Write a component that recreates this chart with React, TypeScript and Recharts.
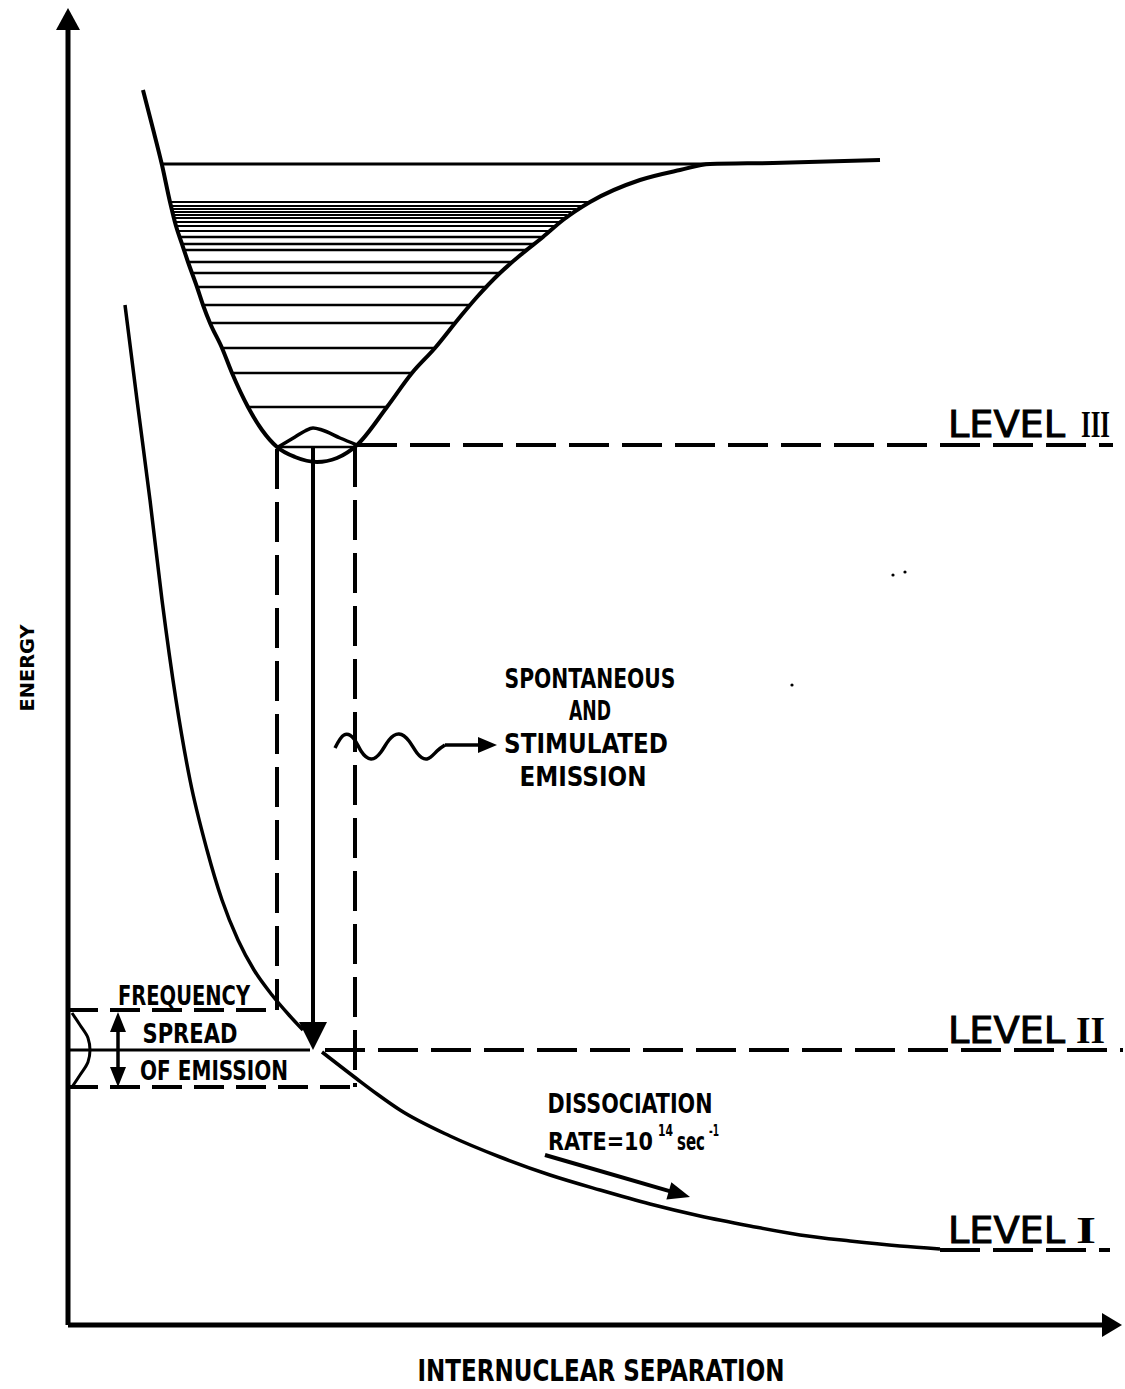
import React from 'react';
import { ComposedChart, Line, XAxis, YAxis, ReferenceLine, ReferenceDot } from 'recharts';

// Upper (bound) potential curve: internuclear separation r vs energy E
const wellCurve = [
  { r: 0.75, E: 12.35 }, { r: 0.84, E: 12.0 }, { r: 0.94, E: 11.6 }, { r: 1.02, E: 11.23 },
  { r: 1.08, E: 10.99 }, { r: 1.14, E: 10.81 }, { r: 1.2, E: 10.63 }, { r: 1.29, E: 10.38 },
  { r: 1.35, E: 10.2 }, { r: 1.42, E: 10.02 }, { r: 1.54, E: 9.77 }, { r: 1.64, E: 9.52 },
  { r: 1.8, E: 9.18 }, { r: 1.94, E: 8.95 }, { r: 2.09, E: 8.78 }, { r: 2.27, E: 8.68 },
  { r: 2.49, E: 8.63 }, { r: 2.69, E: 8.67 }, { r: 2.89, E: 8.8 }, { r: 3.19, E: 9.18 },
  { r: 3.44, E: 9.52 }, { r: 3.67, E: 9.77 }, { r: 3.92, E: 10.08 }, { r: 4.09, E: 10.28 },
  { r: 4.32, E: 10.52 }, { r: 4.55, E: 10.72 }, { r: 4.75, E: 10.88 }, { r: 4.95, E: 11.05 },
  { r: 5.22, E: 11.23 }, { r: 5.72, E: 11.45 }, { r: 6.12, E: 11.55 }, { r: 6.42, E: 11.61 },
  { r: 7.05, E: 11.62 }, { r: 8.12, E: 11.65 },
];

// Ground-state wavefunction bump at bottom of the well
const groundWave = [
  { r: 2.1, E: 8.78 }, { r: 2.27, E: 8.88 }, { r: 2.37, E: 8.94 }, { r: 2.45, E: 8.97 },
  { r: 2.54, E: 8.95 }, { r: 2.72, E: 8.87 }, { r: 2.89, E: 8.8 },
];

// Vibrational levels inside the well: energy, left and right turning points
const vibLevels = [
  { E: 11.61, r1: 0.94, r2: 6.42 },
  { E: 11.23, r1: 1.02, r2: 5.22 }, { E: 11.19, r1: 1.03, r2: 5.14 }, { E: 11.16, r1: 1.04, r2: 5.08 },
  { E: 11.13, r1: 1.045, r2: 5.03 }, { E: 11.1, r1: 1.05, r2: 4.99 }, { E: 11.07, r1: 1.06, r2: 4.96 },
  { E: 11.03, r1: 1.07, r2: 4.92 }, { E: 10.99, r1: 1.08, r2: 4.87 }, { E: 10.94, r1: 1.1, r2: 4.82 },
  { E: 10.88, r1: 1.12, r2: 4.75 }, { E: 10.81, r1: 1.14, r2: 4.67 }, { E: 10.75, r1: 1.16, r2: 4.59 },
  { E: 10.63, r1: 1.2, r2: 4.45 }, { E: 10.52, r1: 1.24, r2: 4.32 }, { E: 10.38, r1: 1.29, r2: 4.19 },
  { E: 10.2, r1: 1.35, r2: 4.02 }, { E: 10.02, r1: 1.42, r2: 3.87 }, { E: 9.77, r1: 1.54, r2: 3.67 },
  { E: 9.52, r1: 1.64, r2: 3.44 }, { E: 9.18, r1: 1.8, r2: 3.19 }, { E: 8.78, r1: 2.09, r2: 2.89 },
];

// Lower (repulsive) potential curve, split by the emission arrow tip
const repulsiveUpper = [
  { r: 0.57, E: 10.2 }, { r: 0.69, E: 9.25 }, { r: 0.82, E: 8.25 }, { r: 0.94, E: 7.25 },
  { r: 1.08, E: 6.25 }, { r: 1.22, E: 5.45 }, { r: 1.39, E: 4.75 }, { r: 1.54, E: 4.25 },
  { r: 1.7, E: 3.85 }, { r: 1.86, E: 3.55 }, { r: 2.04, E: 3.3 }, { r: 2.21, E: 3.1 },
  { r: 2.35, E: 2.95 },
];
const repulsiveLower = [
  { r: 2.54, E: 2.73 }, { r: 2.89, E: 2.46 }, { r: 3.09, E: 2.31 }, { r: 3.32, E: 2.15 },
  { r: 3.82, E: 1.89 }, { r: 4.32, E: 1.68 }, { r: 4.82, E: 1.5 }, { r: 5.32, E: 1.35 },
  { r: 5.82, E: 1.21 }, { r: 6.32, E: 1.09 }, { r: 6.82, E: 0.99 }, { r: 7.32, E: 0.9 },
  { r: 7.82, E: 0.84 }, { r: 8.32, E: 0.79 }, { r: 8.72, E: 0.76 },
];

// Frequency-spread profile drawn against the energy axis
const spreadProfile = [
  { r: 0.04, E: 3.12 }, { r: 0.12, E: 3.0 }, { r: 0.2, E: 2.87 }, { r: 0.22, E: 2.75 },
  { r: 0.2, E: 2.63 }, { r: 0.12, E: 2.5 }, { r: 0.04, E: 2.38 },
];

// Emitted photon (wavy line)
const photonWave = [
  { r: 2.67, E: 5.77 }, { r: 2.76, E: 5.9 }, { r: 2.86, E: 5.86 }, { r: 2.93, E: 5.74 },
  { r: 3.03, E: 5.66 }, { r: 3.13, E: 5.73 }, { r: 3.21, E: 5.85 }, { r: 3.31, E: 5.91 },
  { r: 3.41, E: 5.84 }, { r: 3.49, E: 5.72 }, { r: 3.59, E: 5.66 }, { r: 3.69, E: 5.74 },
  { r: 3.77, E: 5.8 },
];

// Energy levels
const levelE = { III: 8.8, II: 2.75, I: 0.75 };
const spreadTopE = 3.15;
const spreadBottomE = 2.38;
const turnLeftR = 2.09;
const turnRightR = 2.87;
const emissionR = 2.45;

const specks = [{ r: 8.25, E: 7.5 }, { r: 8.37, E: 7.53 }, { r: 7.24, E: 6.4 }];

const FONT = '"DejaVu Sans Condensed", "DejaVu Sans", sans-serif';

const arrowShape = (head: number, half: number, both = false) => (p: any) => {
  const { x1, y1, x2, y2, stroke, strokeWidth } = p;
  const dx = x2 - x1;
  const dy = y2 - y1;
  const len = Math.hypot(dx, dy) || 1;
  const ux = dx / len;
  const uy = dy / len;
  const tri = (tx: number, ty: number, vx: number, vy: number) => {
    const bx = tx - vx * head;
    const by = ty - vy * head;
    return `${tx},${ty} ${bx - vy * half},${by + vx * half} ${bx + vy * half},${by - vx * half}`;
  };
  const sx = both ? x1 + ux * head * 0.6 : x1;
  const sy = both ? y1 + uy * head * 0.6 : y1;
  return (
    <g>
      <line x1={sx} y1={sy} x2={x2 - ux * head * 0.6} y2={y2 - uy * head * 0.6} stroke={stroke} strokeWidth={strokeWidth} />
      <polygon points={tri(x2, y2, ux, uy)} fill="#000" />
      {both && <polygon points={tri(x1, y1, -ux, -uy)} fill="#000" />}
    </g>
  );
};

type Ann = { text: string; r: number; E: number; w: number; size: number; weight?: number | string; anchor?: string; rotate?: boolean; thick?: number };

const annotations: Ann[] = [
  { text: 'SPONTANEOUS', r: 5.22, E: 6.37, w: 171, size: 27 },
  { text: 'AND', r: 5.22, E: 6.05, w: 42, size: 27 },
  { text: 'STIMULATED', r: 5.18, E: 5.72, w: 164, size: 27 },
  { text: 'EMISSION', r: 5.15, E: 5.39, w: 127, size: 27 },
  { text: 'FREQUENCY', r: 1.16, E: 3.2, w: 132, size: 26 },
  { text: 'SPREAD', r: 1.22, E: 2.82, w: 95, size: 26 },
  { text: 'OF EMISSION', r: 1.46, E: 2.45, w: 148, size: 26 },
  { text: 'DISSOCIATION', r: 5.62, E: 2.12, w: 165, size: 26 },
  { text: 'INTERNUCLEAR   SEPARATION', r: 5.33, E: -0.56, w: 367, size: 30, weight: 600 },
  { text: 'ENERGY', r: -0.34, E: 6.57, w: 87, size: 19, rotate: true },
  { text: 'LEVEL', r: 8.8, E: 8.88, w: 117, size: 38, weight: 'normal', anchor: 'start', thick: 0.9 },
  { text: 'LEVEL', r: 8.8, E: 2.82, w: 117, size: 38, weight: 'normal', anchor: 'start', thick: 0.9 },
  { text: 'LEVEL', r: 8.8, E: 0.82, w: 117, size: 38, weight: 'normal', anchor: 'start', thick: 0.9 },
];

const numerals: Ann[] = [
  { text: 'III', r: 10.13, E: 8.88, w: 29, size: 38 },
  { text: 'II', r: 10.08, E: 2.82, w: 29, size: 38 },
  { text: 'I', r: 10.08, E: 0.82, w: 20, size: 38 },
];

const renderAnn = (a: Ann, serif = false) => (p: any) => {
  const x = p.viewBox.x;
  const y = p.viewBox.y;
  return (
    <text
      x={x}
      y={y}
      textAnchor={a.anchor || (serif ? 'start' : 'middle')}
      textLength={a.w}
      lengthAdjust="spacingAndGlyphs"
      fontFamily={serif ? '"Liberation Serif", "DejaVu Serif", serif' : FONT}
      fontWeight={a.weight || 'bold'}
      fontSize={a.size}
      fill="#000"
      stroke={a.thick ? '#000' : undefined}
      strokeWidth={a.thick}
      transform={a.rotate ? `rotate(-90, ${x}, ${y})` : undefined}
    >
      {a.text}
    </text>
  );
};

// "RATE = 10^14 sec^-1", laid out piece by piece from the anchor point
const rateLabel = (p: any) => {
  const x = p.viewBox.x;
  const y = p.viewBox.y;
  const common = { fontFamily: FONT, fontWeight: 'bold' as const, fill: '#000', lengthAdjust: 'spacingAndGlyphs' };
  return (
    <g>
      <text x={x} y={y} fontSize={25} textLength={105} {...common}>RATE=10</text>
      <text x={x + 110} y={y - 14} fontSize={15} textLength={15} {...common}>14</text>
      <text x={x + 129} y={y} fontSize={25} textLength={28} {...common}>sec</text>
      <text x={x + 161} y={y - 14} fontSize={15} textLength={10} {...common}>-1</text>
    </g>
  );
};

const lineProps = { dot: false, activeDot: false, isAnimationActive: false, stroke: '#000', dataKey: 'E' } as const;
const DASH = '40 13';

export default function App() {
  return (
    <div style={{ position: 'absolute', left: 0, top: 0, width: 1125, height: 1389, background: '#fff' }}>
      <ComposedChart width={1125} height={1389} margin={{ top: 5, right: 2, bottom: 64, left: 68 }}>
        <XAxis type="number" dataKey="r" domain={[0, 10.55]} hide allowDataOverflow />
        <YAxis type="number" domain={[0, 13.2]} hide allowDataOverflow />

        {/* axes with arrowheads */}
        <ReferenceLine segment={[{ x: 0, y: 0 }, { x: 0, y: 13.17 }]} stroke="#000" strokeWidth={5} ifOverflow="visible" shape={arrowShape(22, 12)} />
        <ReferenceLine segment={[{ x: 0, y: 0 }, { x: 10.54, y: 0 }]} stroke="#000" strokeWidth={5} ifOverflow="visible" shape={arrowShape(20, 12)} />

        {/* vibrational levels */}
        {vibLevels.map((v, i) => (
          <ReferenceLine key={`v${i}`} segment={[{ x: v.r1, y: v.E }, { x: v.r2, y: v.E }]} stroke="#000" strokeWidth={i === 0 ? 3 : i < 10 ? 2 : 2.5} ifOverflow="visible" />
        ))}

        {/* energy levels */}
        <ReferenceLine segment={[{ x: turnRightR + 0.02, y: levelE.III }, { x: 10.45, y: levelE.III }]} stroke="#000" strokeWidth={4} strokeDasharray={DASH} ifOverflow="visible" />
        <ReferenceLine segment={[{ x: 0, y: levelE.II }, { x: 2.42, y: levelE.II }]} stroke="#000" strokeWidth={3} ifOverflow="visible" />
        <ReferenceLine segment={[{ x: 2.57, y: levelE.II }, { x: 10.55, y: levelE.II }]} stroke="#000" strokeWidth={4} strokeDasharray={DASH} ifOverflow="visible" />
        <ReferenceLine segment={[{ x: 8.72, y: levelE.I }, { x: 10.42, y: levelE.I }]} stroke="#000" strokeWidth={4} strokeDasharray={DASH} ifOverflow="visible" />

        {/* frequency spread box */}
        <ReferenceLine segment={[{ x: 0, y: spreadTopE }, { x: turnLeftR, y: spreadTopE }]} stroke="#000" strokeWidth={4} strokeDasharray="30 12" ifOverflow="visible" />
        <ReferenceLine segment={[{ x: 0, y: spreadBottomE }, { x: turnRightR, y: spreadBottomE }]} stroke="#000" strokeWidth={4} strokeDasharray="30 12" ifOverflow="visible" />
        <ReferenceLine segment={[{ x: turnLeftR, y: 8.76 }, { x: turnLeftR, y: spreadTopE }]} stroke="#000" strokeWidth={4} strokeDasharray={DASH} ifOverflow="visible" />
        <ReferenceLine segment={[{ x: turnRightR, y: 8.78 }, { x: turnRightR, y: spreadBottomE }]} stroke="#000" strokeWidth={4} strokeDasharray={DASH} ifOverflow="visible" />

        {/* arrows */}
        <ReferenceLine segment={[{ x: emissionR, y: 8.78 }, { x: emissionR, y: levelE.II }]} stroke="#000" strokeWidth={4} ifOverflow="visible" shape={arrowShape(28, 14)} />
        <ReferenceLine segment={[{ x: 0.5, y: 3.13 }, { x: 0.5, y: 2.38 }]} stroke="#000" strokeWidth={3.5} ifOverflow="visible" shape={arrowShape(20, 8, true)} />
        <ReferenceLine segment={[{ x: 3.77, y: 5.8 }, { x: 4.29, y: 5.8 }]} stroke="#000" strokeWidth={3.5} ifOverflow="visible" shape={arrowShape(19, 8)} />
        <ReferenceLine segment={[{ x: 4.77, y: 1.7 }, { x: 6.22, y: 1.28 }]} stroke="#000" strokeWidth={4} ifOverflow="visible" shape={arrowShape(22, 9)} />

        {/* curves */}
        <Line {...lineProps} data={wellCurve} type="monotone" strokeWidth={4} />
        <Line {...lineProps} data={groundWave} type="monotone" strokeWidth={3.5} />
        <Line {...lineProps} data={repulsiveUpper} type="monotone" strokeWidth={3.5} />
        <Line {...lineProps} data={repulsiveLower} type="monotone" strokeWidth={3.5} />
        <Line {...lineProps} data={spreadProfile} type="monotoneY" strokeWidth={3} />
        <Line {...lineProps} data={photonWave} type="natural" strokeWidth={3.5} />

        {specks.map((s, i) => (
          <ReferenceDot key={`s${i}`} x={s.r} y={s.E} r={1.6} fill="#000" stroke="none" ifOverflow="visible" />
        ))}

        {annotations.map((a, i) => (
          <ReferenceDot key={`a${i}`} x={a.r} y={a.E} r={0} fill="none" stroke="none" ifOverflow="visible" label={renderAnn(a)} />
        ))}
        {numerals.map((a, i) => (
          <ReferenceDot key={`n${i}`} x={a.r} y={a.E} r={0} fill="none" stroke="none" ifOverflow="visible" label={renderAnn(a, true)} />
        ))}
        <ReferenceDot x={4.8} y={1.75} r={0} fill="none" stroke="none" ifOverflow="visible" label={rateLabel} />
      </ComposedChart>
    </div>
  );
}
